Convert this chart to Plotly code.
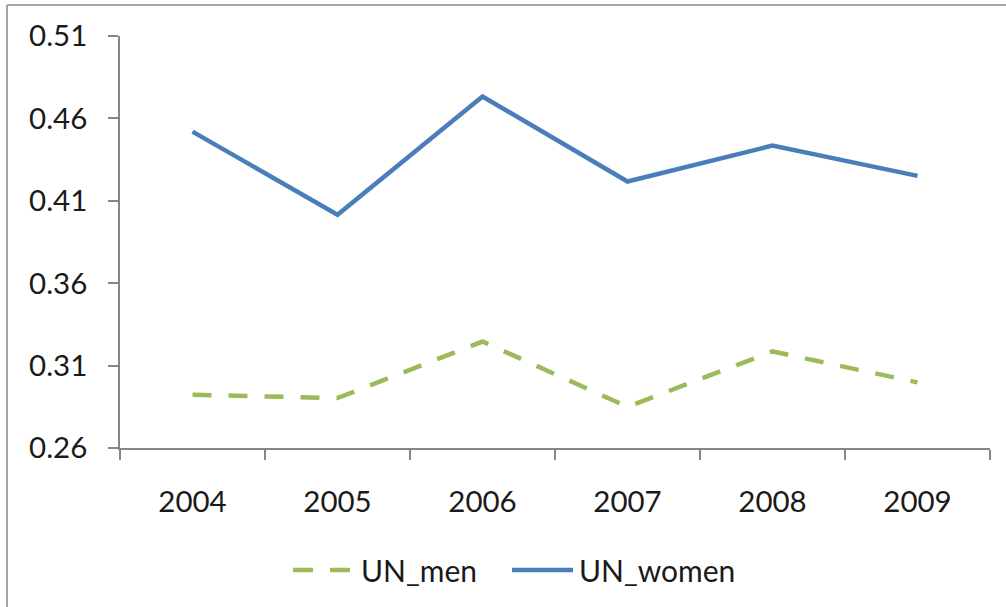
import plotly.graph_objects as go

years = ["2004", "2005", "2006", "2007", "2008", "2009"]
un_men = [0.2923, 0.2903, 0.3246, 0.2850, 0.3186, 0.2998]
un_women = [0.4520, 0.4015, 0.4733, 0.4217, 0.4435, 0.4251]
y_ticks = [0.26, 0.31, 0.36, 0.41, 0.46, 0.51]
y_tick_text = ["0.26", "0.31", "0.36", "0.41", "0.46", "0.51"]

W, H = 1006, 607
L, R, T, B = 120, 16, 36, 159
pw, ph = W - L - R, H - T - B

FONT = "Lato"
TEXT_COLOR = "#1a1a1a"
AXIS_COLOR = "#868686"
MEN_COLOR = "#9BBB59"
WOMEN_COLOR = "#4A7EBB"
MEN_DASH = "19px,17px"

fig = go.Figure()
fig.add_trace(go.Scatter(
    x=years, y=un_men, name="UN_men", mode="lines",
    line=dict(color=MEN_COLOR, width=4.5, dash=MEN_DASH),
))
fig.add_trace(go.Scatter(
    x=years, y=un_women, name="UN_women", mode="lines",
    line=dict(color=WOMEN_COLOR, width=4.5),
))

def px_x(px):
    return (px - L) / pw

def px_y(py):
    return (H - B - py) / ph

legend_y = px_y(570)

shapes = [
    # chart frame (left and top edges visible)
    dict(type="line", xref="paper", yref="paper",
         x0=px_x(7), x1=px_x(1010), y0=px_y(5), y1=px_y(5),
         line=dict(color="#a6a6a6", width=2), layer="above"),
    dict(type="line", xref="paper", yref="paper",
         x0=px_x(7), x1=px_x(7), y0=px_y(5), y1=px_y(612),
         line=dict(color="#a6a6a6", width=2), layer="above"),
    # legend samples
    dict(type="line", xref="paper", yref="paper",
         x0=px_x(293), x1=px_x(350), y0=legend_y, y1=legend_y,
         line=dict(color=MEN_COLOR, width=4.5, dash="20px,17px")),
    dict(type="line", xref="paper", yref="paper",
         x0=px_x(512), x1=px_x(573), y0=legend_y, y1=legend_y,
         line=dict(color=WOMEN_COLOR, width=4.5)),
]

annotations = [
    dict(text="UN_men", xref="paper", yref="paper", x=px_x(359), y=legend_y,
         xanchor="left", yanchor="middle", showarrow=False,
         font=dict(family=FONT, size=30, color=TEXT_COLOR)),
    dict(text="UN_women", xref="paper", yref="paper", x=px_x(577), y=legend_y,
         xanchor="left", yanchor="middle", showarrow=False,
         font=dict(family=FONT, size=30, color=TEXT_COLOR)),
]

fig.update_layout(
    width=W, height=H,
    margin=dict(l=L, r=R, t=T, b=B, autoexpand=False),
    paper_bgcolor="white", plot_bgcolor="white",
    font=dict(family=FONT, size=29, color=TEXT_COLOR),
    showlegend=False,
    xaxis=dict(
        type="category", range=[-0.5, 5.5], tickson="boundaries",
        showline=True, linecolor=AXIS_COLOR, linewidth=1.5,
        ticks="outside", ticklen=10, tickcolor=AXIS_COLOR, tickwidth=1.5,
        showgrid=False, zeroline=False, ticklabelstandoff=27,
        tickfont=dict(family=FONT, size=29.5, color=TEXT_COLOR),
    ),
    yaxis=dict(
        range=[0.26, 0.51], tickvals=y_ticks, ticktext=y_tick_text,
        showline=True, linecolor=AXIS_COLOR, linewidth=1.5,
        ticks="outside", ticklen=10, tickcolor=AXIS_COLOR, tickwidth=1.5,
        showgrid=False, zeroline=False, ticklabelstandoff=15,
        tickfont=dict(family=FONT, size=29.5, color=TEXT_COLOR),
    ),
    shapes=shapes,
    annotations=annotations,
)

fig.write_html("out.html")
